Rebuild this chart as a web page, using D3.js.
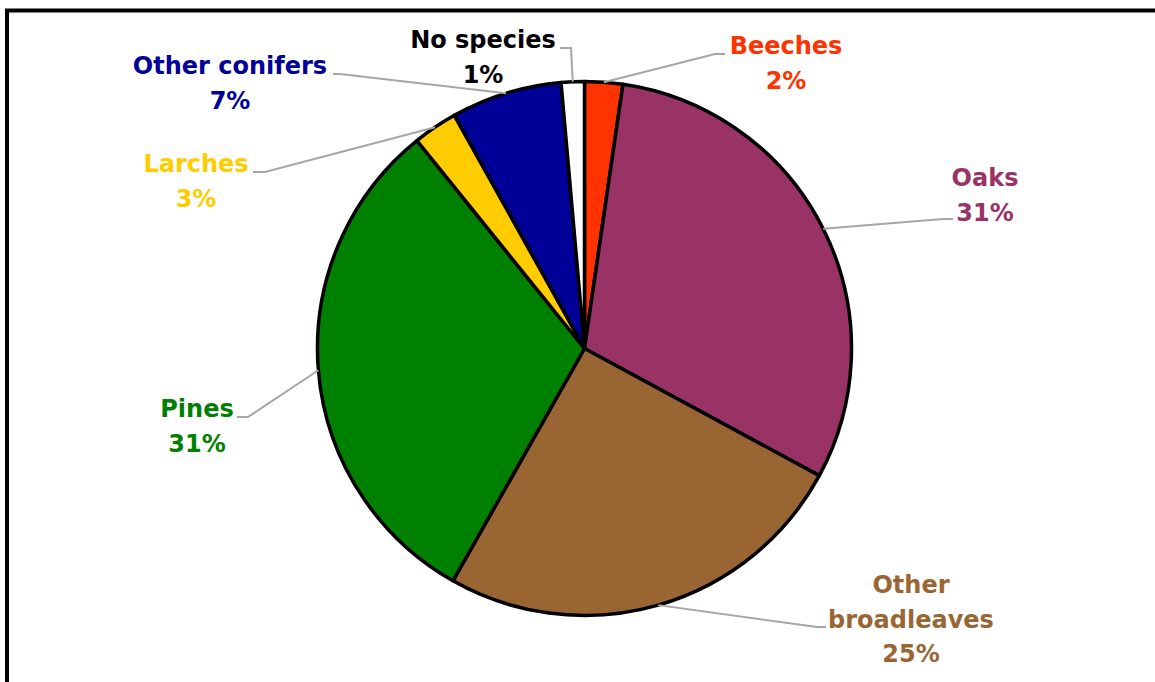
<!DOCTYPE html>
<html>
<head>
<meta charset="utf-8">
<script src="https://cdn.jsdelivr.net/npm/d3@7"></script>
<style>
  body { margin: 0; background: #fff; }
  svg { display: block; }
  .lbl { font-family: "DejaVu Sans", Verdana, sans-serif; font-weight: bold; font-size: 24px; }
</style>
</head>
<body>
<svg id="pie-chart" width="1155" height="682"></svg>
<script>
// Data - species share, clockwise from 12 o'clock
var species = ["Beeches", "Oaks", "Other broadleaves", "Pines", "Larches", "Other conifers", "No species"];
var shares = [2.3, 30.6, 25.3, 31.0, 2.7, 6.7, 1.4];
var colours = ["#FF3300", "#993366", "#996633", "#008000", "#FFCC00", "#000099", "#FFFFFF"];
var labelColours = ["#FF3300", "#993366", "#996633", "#008000", "#FFCC00", "#000099", "#000000"];
// label text split into lines
var labelLines = [["Beeches"], ["Oaks"], ["Other", "broadleaves"], ["Pines"], ["Larches"], ["Other conifers"], ["No species"]];

// Layout for the labels: text centre, first baseline, leader elbow and end
var labelPos = [
  {x: 786, y: 54, elbow: [715, 54], end: [725, 54]},
  {x: 985, y: 186, elbow: [943, 219], end: [953, 219]},
  {x: 911, y: 593, elbow: [817, 627], end: [826, 627]},
  {x: 197, y: 417, elbow: [248, 417], end: [237, 417]},
  {x: 196, y: 172, elbow: [265, 172], end: [253, 172]},
  {x: 230, y: 74, elbow: [340, 74], end: [333, 74]},
  {x: 483, y: 48, elbow: [571, 48], end: [560, 48]}
];

var svg = d3.select("#pie-chart");

// chart frame (right and bottom edges sit outside the picture)
svg.append("rect")
  .attr("x", 7).attr("y", 10.5)
  .attr("width", 1200).attr("height", 700)
  .attr("fill", "none")
  .attr("stroke", "#000")
  .attr("stroke-width", 4);

var cx = 584.5, cy = 348.5, radius = 267;

var data = species.map(function(s, i) { return {name: s, value: shares[i], i: i}; });

var pie = d3.pie()
  .sort(null)
  .value(function(d) { return d.value; });

var arc = d3.arc().innerRadius(0).outerRadius(radius);

var g = svg.append("g").attr("transform", "translate(" + cx + "," + cy + ")");
var arcs = pie(data);

g.selectAll(".slice")
  .data(arcs)
  .enter().append("path")
  .attr("class", "slice")
  .attr("d", arc)
  .attr("fill", function(d) { return colours[d.data.i]; })
  .attr("stroke", "#000")
  .attr("stroke-width", 3.5)
  .attr("stroke-linejoin", "round");

// leader lines from slice middle on the rim
var total = d3.sum(shares);
svg.selectAll(".leader")
  .data(arcs)
  .enter().append("polyline")
  .attr("class", "leader")
  .attr("points", function(d) {
    var a = (d.startAngle + d.endAngle) / 2;
    var sx = cx + Math.sin(a) * radius, sy = cy - Math.cos(a) * radius;
    var p = labelPos[d.data.i];
    return [[sx, sy], p.elbow, p.end].map(function(q) { return q.join(","); }).join(" ");
  })
  .attr("fill", "none")
  .attr("stroke", "#A6A6A6")
  .attr("stroke-width", 2);

// labels: name lines then rounded percentage
var labels = svg.selectAll(".lbl")
  .data(arcs)
  .enter().append("text")
  .attr("class", "lbl")
  .attr("text-anchor", "middle")
  .attr("fill", function(d) { return labelColours[d.data.i]; });

labels.each(function(d) {
  var p = labelPos[d.data.i];
  var lines = labelLines[d.data.i].concat([Math.round(d.data.value / total * 100) + "%"]);
  var t = d3.select(this);
  lines.forEach(function(line, k) {
    t.append("tspan")
      .attr("x", p.x)
      .attr("y", p.y + k * 34.5)
      .text(line);
  });
});
</script>
</body>
</html>
